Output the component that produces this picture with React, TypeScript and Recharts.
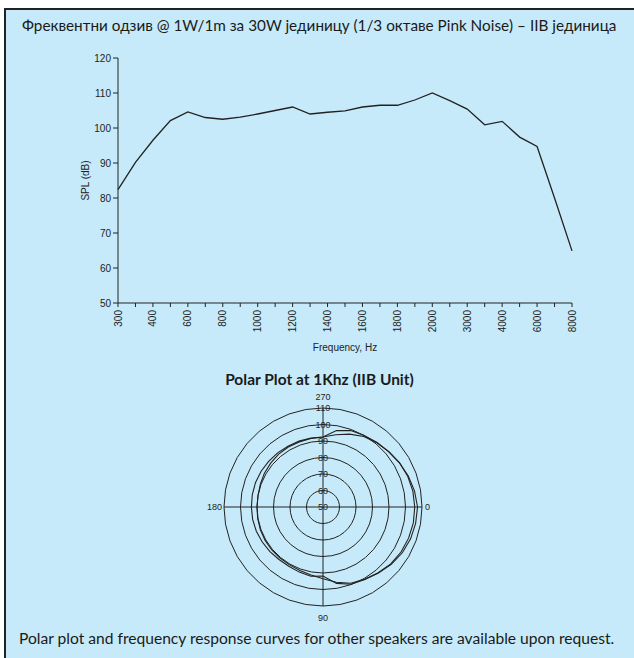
import React from 'react';
import {
  LineChart,
  Line,
  XAxis,
  YAxis,
  RadarChart,
  Radar,
  PolarGrid,
  PolarAngleAxis,
  PolarRadiusAxis,
} from 'recharts';

// frequency response, 1/3 octave pink noise
const frequencies = [
  '300', '350', '400', '500', '600', '700', '800', '900', '1000', '1100', '1200', '1300', '1400',
  '1500', '1600', '1700', '1800', '1900', '2000', '2500', '3000', '3500', '4000', '5000', '6000',
  '7000', '8000',
];
const splValues = [
  82.4, 90.2, 96.5, 102.1, 104.6, 103.0, 102.5, 103.1, 104.0, 105.0, 106.0, 104.0, 104.5,
  104.9, 106.0, 106.5, 106.5, 108.0, 110.0, 107.8, 105.4, 100.9, 101.9, 97.4, 94.7,
  80.0, 64.9,
];
const splTicks = [50, 60, 70, 80, 90, 100, 110, 120];

// polar plot at 1 kHz, two measured curves
const polarAngles = [
  0, 10, 20, 30, 40, 50, 60, 70, 80, 90, 100, 110, 120, 130, 140, 150, 160, 170,
  180, 190, 200, 210, 220, 230, 240, 250, 260, 270, 280, 290, 300, 310, 320, 330, 340, 350,
];
const curveA = [
  107.3, 107, 106.5, 105.5, 104, 102.3, 100.8, 99.8, 97, 91.8, 92.6, 92, 91.5, 91.5, 92, 92.5, 93, 93.3,
  93.4, 93.5, 93.5, 93.3, 93, 92.8, 92.5, 92.5, 92.4, 92.4, 97, 99.3, 100, 101, 102, 103.5, 105, 106.3,
];
const curveB = [
  105.6, 105.6, 105.2, 104.6, 103.6, 102, 100.5, 99.2, 96.3, 93.5, 91.8, 91, 90.5, 90.5, 90.5, 90.5, 90.4, 90.2,
  90, 90, 90.4, 91, 91.4, 91.8, 92, 92, 92.2, 92.4, 94.5, 97, 99.4, 100.8, 102.2, 103.6, 104.6, 105.3,
];
const polarTicks = [50, 60, 70, 80, 90, 100, 110];
const majorAngles = ['0', '90', '180', '270'];

const responseData = frequencies.map((f, i) => ({ freq: f, spl: splValues[i] }));
const polarData = polarAngles.map((a, i) => ({ angle: String(a), a: curveA[i], b: curveB[i] }));

const INK = '#222';
const ARIAL = '"Liberation Sans", Arial, sans-serif';
const TEXT_FONT = 'Lato, "Noto Sans", sans-serif';

const FreqTick = (props: any) => {
  const { x, y, index, payload } = props;
  if (index % 2 !== 0) return null;
  return (
    <text
      x={x}
      y={y}
      transform={`rotate(-90, ${x}, ${y})`}
      textAnchor="end"
      dy="0.35em"
      fontSize={10}
      fontFamily={ARIAL}
      fill={INK}
    >
      {payload.value}
    </text>
  );
};

// labels only at the four main directions
const AngleTick = (props: any) => {
  const { x, y, payload } = props;
  const v = String(payload.value);
  if (!majorAngles.includes(v)) return null;
  let tx = x;
  let ty = y;
  let anchor = 'middle';
  if (v === '0') { tx = x - 5; anchor = 'start'; }
  if (v === '180') { tx = x + 6; anchor = 'end'; }
  if (v === '270') ty = y - 3;
  if (v === '90') ty = y + 4;
  return (
    <text x={tx} y={ty} textAnchor={anchor} dominantBaseline="central" fontSize={9} fontFamily={ARIAL} fill={INK}>
      {v}
    </text>
  );
};

const RadiusTick = (props: any) => {
  const { x, y, payload } = props;
  return (
    <text x={x} y={y} textAnchor="middle" dominantBaseline="central" fontSize={9} fontFamily={ARIAL} fill={INK}>
      {payload.value}
    </text>
  );
};

export default function App() {
  return (
    <div style={{ position: 'fixed', left: 0, top: 0, width: 634, height: 658, background: '#fff', overflow: 'hidden' }}>
      <div
        style={{
          position: 'absolute',
          left: 4,
          top: 8,
          width: 700,
          height: 700,
          border: `2px solid ${INK}`,
          background: '#c6eaf9',
        }}
      />
      <div
        style={{
          position: 'absolute',
          left: 22,
          top: 16,
          fontFamily: TEXT_FONT,
          fontSize: 15.3,
          color: '#1a1a1a',
          whiteSpace: 'nowrap',
        }}
      >
        Фреквентни одзив @ 1W/1m за 30W јединицу (1/3 октаве Pink Noise) – IIB јединица
      </div>

      <div style={{ position: 'absolute', left: 0, top: 0 }}>
        <LineChart width={634} height={365} data={responseData} margin={{ top: 58, right: 62, left: 68, bottom: 0 }}>
          <XAxis
            dataKey="freq"
            interval={0}
            height={62}
            tickSize={4}
            tickMargin={3}
            stroke={INK}
            tick={<FreqTick />}
            label={{
              content: ({ viewBox }: any) => (
                <text
                  x={viewBox.x + viewBox.width / 2}
                  y={viewBox.y + 44}
                  textAnchor="middle"
                  dominantBaseline="central"
                  fontSize={10}
                  fontFamily={ARIAL}
                  fill={INK}
                >
                  Frequency, Hz
                </text>
              ),
            }}
          />
          <YAxis
            domain={[50, 120]}
            ticks={splTicks}
            width={50}
            tickSize={5}
            tickMargin={2}
            stroke={INK}
            tick={{ fontSize: 10, fontFamily: ARIAL, fill: INK }}
            label={{
              content: ({ viewBox }: any) => {
                const cx = viewBox.x + 17;
                const cy = viewBox.y + viewBox.height / 2;
                return (
                  <text
                    x={cx}
                    y={cy}
                    transform={`rotate(-90, ${cx}, ${cy})`}
                    textAnchor="middle"
                    dominantBaseline="central"
                    fontSize={10}
                    fontFamily={ARIAL}
                    fill={INK}
                  >
                    SPL (dB)
                  </text>
                );
              },
            }}
          />
          <Line
            type="linear"
            dataKey="spl"
            stroke={INK}
            strokeWidth={1.3}
            dot={false}
            isAnimationActive={false}
          />
        </LineChart>
      </div>

      <div
        style={{
          position: 'absolute',
          left: 0,
          width: 634,
          top: 370,
          textAlign: 'center',
          fontFamily: TEXT_FONT,
          fontWeight: 700,
          fontSize: 15.5,
          color: '#1a1a1a',
          paddingLeft: 5,
          boxSizing: 'border-box',
        }}
      >
        Polar Plot at 1Khz (IIB Unit)
      </div>

      <div style={{ position: 'absolute', left: 193, top: 377 }}>
        <RadarChart
          width={260}
          height={260}
          data={polarData}
          cx={130}
          cy={130}
          outerRadius={99}
          startAngle={0}
          endAngle={-360}
          margin={{ top: 0, right: 0, bottom: 0, left: 0 }}
        >
          <PolarGrid gridType="polygon" radialLines={false} stroke={INK} strokeWidth={1} />
          <PolarGrid gridType="circle" polarAngles={[0, 90, 180, 270]} polarRadius={[]} stroke={INK} strokeWidth={1} />
          <PolarAngleAxis dataKey="angle" axisLine={false} tickLine={false} tick={<AngleTick />} />
          <PolarRadiusAxis
            angle={90}
            domain={[50, 110]}
            ticks={polarTicks}
            tickCount={7}
            axisLine={false}
            tickLine={false}
            tick={<RadiusTick />}
          />
          <Radar dataKey="a" stroke={INK} strokeWidth={1.1} fill="none" fillOpacity={0} dot={false} isAnimationActive={false} />
          <Radar dataKey="b" stroke={INK} strokeWidth={1.1} fill="none" fillOpacity={0} dot={false} isAnimationActive={false} />
        </RadarChart>
      </div>

      <div
        style={{
          position: 'absolute',
          left: 19,
          top: 629,
          fontFamily: TEXT_FONT,
          fontSize: 15.6,
          color: '#1a1a1a',
          whiteSpace: 'nowrap',
        }}
      >
        Polar plot and frequency response curves for other speakers are available upon request.
      </div>
    </div>
  );
}
